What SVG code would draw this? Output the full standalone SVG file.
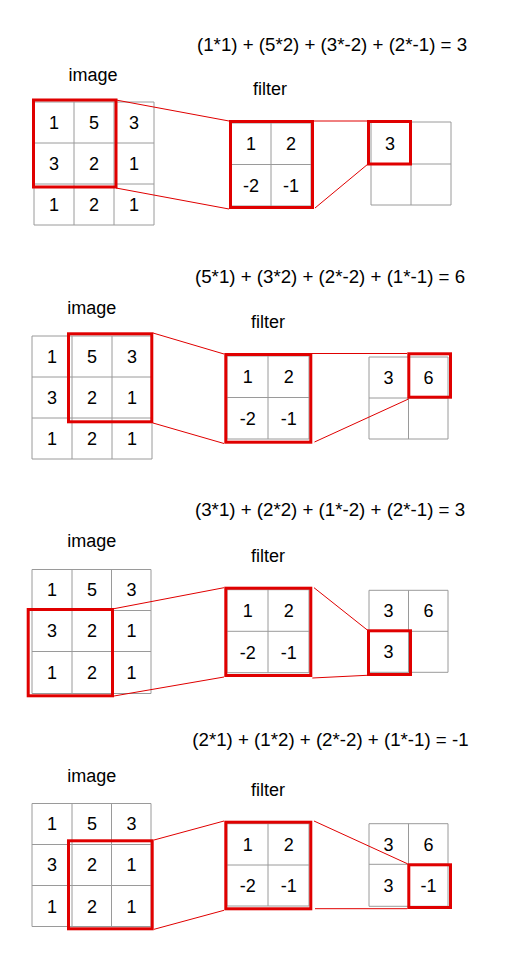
<svg xmlns="http://www.w3.org/2000/svg" width="528" height="960" viewBox="0 0 528 960">
<style>
.g{fill:none;stroke:#9a9a9a;stroke-width:1}
.r{fill:none;stroke:#e00000;stroke-width:3}
.c{fill:none;stroke:#e00000;stroke-width:1}
text{font-family:"Liberation Sans",Arial,sans-serif;fill:#000}
.n{font-size:18px;text-anchor:middle}
.l{font-size:18px;text-anchor:middle}
.e{font-size:18.7px}
</style>
<rect width="528" height="960" fill="#fff"/>

<!-- Panel 1 -->
<g id="panel1">
<text class="e" x="197" y="51">(1*1) + (5*2) + (3*-2) + (2*-1) = 3</text>
<text class="l" x="93" y="81">image</text>
<text class="l" x="270" y="95">filter</text>
<g id="p1-image">
<path class="g" d="M34 102H154V225H34Z M74 102V225 M114 102V225 M34 143H154 M34 184H154"/>
<text class="n" x="54" y="129">1</text><text class="n" x="94" y="129">5</text><text class="n" x="134" y="129">3</text>
<text class="n" x="54" y="170">3</text><text class="n" x="94" y="170">2</text><text class="n" x="134" y="170">1</text>
<text class="n" x="54" y="211">1</text><text class="n" x="94" y="211">2</text><text class="n" x="134" y="211">1</text>
<rect class="r" x="33.5" y="100" width="82.5" height="87"/>
</g>
<g id="p1-filter">
<path class="g" d="M231 123H311V206H231Z M271 123V206 M231 164.5H311"/>
<text class="n" x="251" y="150">1</text><text class="n" x="291" y="150">2</text>
<text class="n" x="251" y="191.5">-2</text><text class="n" x="291" y="191.5">-1</text>
<rect class="r" x="230.5" y="121.5" width="82" height="86"/>
</g>
<g id="p1-output">
<path class="g" d="M371 122H451V205H371Z M411 122V205 M371 164H451"/>
<text class="n" x="390" y="149.5">3</text>
<rect class="r" x="368.5" y="121.5" width="42" height="42.5"/>
</g>
</g>

<!-- Panel 2 -->
<g id="panel2">
<text class="e" x="195" y="283">(5*1) + (3*2) + (2*-2) + (1*-1) = 6</text>
<text class="l" x="91.7" y="314.3">image</text>
<text class="l" x="268" y="328.3">filter</text>
<g id="p2-image">
<path class="g" d="M32 336H152V459H32Z M72 336V459 M112 336V459 M32 377H152 M32 418H152"/>
<text class="n" x="52" y="363">1</text><text class="n" x="92" y="363">5</text><text class="n" x="132" y="363">3</text>
<text class="n" x="52" y="404">3</text><text class="n" x="92" y="404">2</text><text class="n" x="132" y="404">1</text>
<text class="n" x="52" y="445">1</text><text class="n" x="92" y="445">2</text><text class="n" x="132" y="445">1</text>
<rect class="r" x="68.5" y="333.8" width="83.3" height="88"/>
</g>
<g id="p2-filter">
<path class="g" d="M227 356H309V439H227Z M268 356V439 M227 397.5H309"/>
<text class="n" x="247.7" y="383.2">1</text><text class="n" x="288.7" y="383.2">2</text>
<text class="n" x="247.7" y="424.7">-2</text><text class="n" x="288.7" y="424.7">-1</text>
<rect class="r" x="225.8" y="354.5" width="85" height="87.7"/>
</g>
<g id="p2-output">
<path class="g" d="M369 357H448V439H369Z M408.5 357V439 M369 398H448"/>
<text class="n" x="388.5" y="383.5">3</text><text class="n" x="428.5" y="383.5">6</text>
<rect class="r" x="408.8" y="353.8" width="41.7" height="43.4"/>
</g>
</g>

<!-- Panel 3 -->
<g id="panel3">
<text class="e" x="195" y="516">(3*1) + (2*2) + (1*-2) + (2*-1) = 3</text>
<text class="l" x="91.7" y="547.3">image</text>
<text class="l" x="268" y="561.7">filter</text>
<g id="p3-image">
<path class="g" d="M32 569.5H151V693.5H32Z M72 569.5V693.5 M111.5 569.5V693.5 M32 610.5H151 M32 651.5H151"/>
<text class="n" x="52" y="596.3">1</text><text class="n" x="92" y="596.3">5</text><text class="n" x="131.5" y="596.3">3</text>
<text class="n" x="52" y="637.3">3</text><text class="n" x="92" y="637.3">2</text><text class="n" x="131.5" y="637.3">1</text>
<text class="n" x="52" y="678.8">1</text><text class="n" x="92" y="678.8">2</text><text class="n" x="131.5" y="678.8">1</text>
<rect class="r" x="28.2" y="609.5" width="84.3" height="86.3"/>
</g>
<g id="p3-filter">
<path class="g" d="M227 589.7H309V672.7H227Z M268 589.7V672.7 M227 631.3H309"/>
<text class="n" x="247.7" y="617">1</text><text class="n" x="288.7" y="617">2</text>
<text class="n" x="247.7" y="658.5">-2</text><text class="n" x="288.7" y="658.5">-1</text>
<rect class="r" x="225.8" y="588.2" width="85" height="87.3"/>
</g>
<g id="p3-output">
<path class="g" d="M369 590.3H448V672.3H369Z M408.5 590.3V672.3 M369 631.3H448"/>
<text class="n" x="388.5" y="617.3">3</text><text class="n" x="428.5" y="617.3">6</text>
<text class="n" x="388.5" y="658.3">3</text>
<rect class="r" x="368.5" y="630.8" width="42" height="43.7"/>
</g>
</g>

<!-- Panel 4 -->
<g id="panel4">
<text class="e" x="192.3" y="746">(2*1) + (1*2) + (2*-2) + (1*-1) = -1</text>
<text class="l" x="91.7" y="781.7">image</text>
<text class="l" x="268" y="795.7">filter</text>
<g id="p4-image">
<path class="g" d="M32 803.5H151V926.5H32Z M72 803.5V926.5 M111.5 803.5V926.5 M32 844.5H151 M32 885.5H151"/>
<text class="n" x="52" y="830.3">1</text><text class="n" x="92" y="830.3">5</text><text class="n" x="131.5" y="830.3">3</text>
<text class="n" x="52" y="871.3">3</text><text class="n" x="92" y="871.3">2</text><text class="n" x="131.5" y="871.3">1</text>
<text class="n" x="52" y="912.5">1</text><text class="n" x="92" y="912.5">2</text><text class="n" x="131.5" y="912.5">1</text>
<rect class="r" x="68.5" y="840.8" width="83.7" height="88"/>
</g>
<g id="p4-filter">
<path class="g" d="M227 823.7H309V906H227Z M268 823.7V906 M227 865H309"/>
<text class="n" x="247.7" y="850.8">1</text><text class="n" x="288.7" y="850.8">2</text>
<text class="n" x="247.7" y="892">-2</text><text class="n" x="288.7" y="892">-1</text>
<rect class="r" x="225.8" y="822.2" width="85" height="86.6"/>
</g>
<g id="p4-output">
<path class="g" d="M369 823.7H448V906.3H369Z M408.5 823.7V906.3 M369 864.3H448"/>
<text class="n" x="388.5" y="850.5">3</text><text class="n" x="428.5" y="850.5">6</text>
<text class="n" x="388.5" y="891.8">3</text><text class="n" x="428.5" y="891.8">-1</text>
<rect class="r" x="408.8" y="864.8" width="41.7" height="42.7"/>
</g>
</g>

<!-- Connectors -->
<g id="connectors">
<path class="c" d="M116 100L229 121"/>
<path class="c" d="M116 188L229 209"/>
<path class="c" d="M313 121H368"/>
<path class="c" d="M315 208L368 164"/>

<path class="c" d="M153 333L224 354"/>
<path class="c" d="M153 423L224 443.5"/>
<path class="c" d="M312 353.5H407"/>
<path class="c" d="M314.5 442L408.5 399"/>

<path class="c" d="M114 608.7L224 587.7"/>
<path class="c" d="M114 696L224 677"/>
<path class="c" d="M314 587.7L367.3 630"/>
<path class="c" d="M312.3 678L367 675.3"/>

<path class="c" d="M154 840L224 821"/>
<path class="c" d="M154 929.3L224 910.3"/>
<path class="c" d="M314 821L407.3 863.7"/>
<path class="c" d="M315 908.7H407.3"/>
</g>
</svg>
